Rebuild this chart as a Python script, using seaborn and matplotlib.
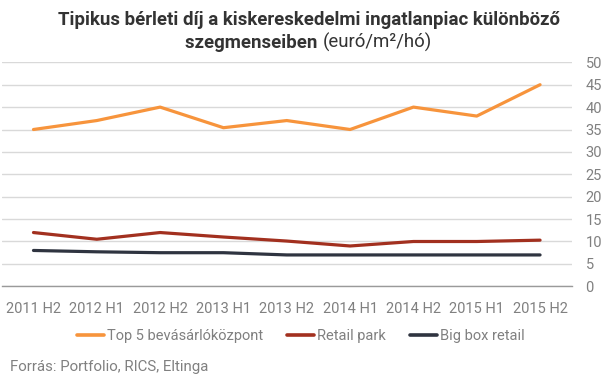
import matplotlib
matplotlib.use("Agg")
import matplotlib.pyplot as plt
import seaborn as sns
import pandas as pd

periods = ["2011 H2", "2012 H1", "2012 H2", "2013 H1", "2013 H2",
           "2014 H1", "2014 H2", "2015 H1", "2015 H2"]
top5 = [35, 37, 40, 35.4, 37, 35, 40, 38, 45]
retail_park = [12, 10.5, 12, 11, 10.1, 9, 10, 10, 10.3]
big_box = [8, 7.7, 7.5, 7.5, 7, 7, 7, 7, 7]

series_names = ["Top 5 bevásárlóközpont", "Retail park", "Big box retail"]
colors = ["#F7943C", "#A2301F", "#2F3440"]

rows = []
for name, vals in zip(series_names, [top5, retail_park, big_box]):
    for i, v in enumerate(vals):
        rows.append({"pos": i, "period": periods[i], "series": name, "value": v})
df = pd.DataFrame(rows)

sns.set_style("white")
plt.rcParams["font.family"] = ["Roboto", "DejaVu Sans"]

fig = plt.figure(figsize=(6.05, 3.79), dpi=100)
ax = fig.add_axes([0.003, 0.2446, 0.942, 0.591])

sns.lineplot(data=df, x="pos", y="value", hue="series", palette=colors,
             hue_order=series_names, linewidth=2.3, ax=ax, legend=False)

ax.set_xlim(-0.5, 8.5)
ax.set_ylim(0, 50)
ax.set_yticks(range(0, 51, 5))
ax.set_xticks(range(len(periods)))
ax.set_xticklabels(periods)
ax.yaxis.tick_right()
ax.tick_params(axis="y", length=0, pad=10, labelsize=10.5, colors="#808080")
ax.tick_params(axis="x", length=0, pad=11, labelsize=10.5, colors="#808080")
for lbl in ax.get_yticklabels():
    lbl.set_horizontalalignment("left")
ax.grid(axis="y", color="#D9D9D9", linewidth=1)
ax.set_axisbelow(True)
for s in ["top", "left", "right"]:
    ax.spines[s].set_visible(False)
ax.spines["bottom"].set_color("#9A9A9A")
ax.spines["bottom"].set_linewidth(1)
ax.set_xlabel("")
ax.set_ylabel("")

handles = [plt.Line2D([], [], color=c, linewidth=2.6) for c in colors]
fig.legend(handles, series_names, loc="center", bbox_to_anchor=(0.497, 0.113),
           ncol=3, frameon=False, fontsize=10.5, handlelength=1.85,
           handletextpad=0.2, columnspacing=1.65, labelcolor="#808080")

title_color = "#333333"
fig.text(0.51, 0.934, "Tipikus bérleti díj a kiskereskedelmi ingatlanpiac különböző",
         ha="center", va="baseline", fontsize=13.4, fontweight="bold", color=title_color)
t1 = fig.text(0, 0.873, "szegmenseiben ", ha="left", va="baseline", fontsize=13.4,
              fontweight="bold", color=title_color)
t2 = fig.text(0, 0.873, "(euró/m²/hó)", ha="left", va="baseline", fontsize=13.4,
              color=title_color)
fig.canvas.draw()
r = fig.canvas.get_renderer()
w1 = t1.get_window_extent(r).width / fig.bbox.width
w2 = t2.get_window_extent(r).width / fig.bbox.width
x0 = 0.51 - (w1 + w2) / 2
t1.set_x(x0)
t2.set_x(x0 + w1)

fig.text(0.017, 0.021, "Forrás: Portfolio, RICS, Eltinga", ha="left", va="baseline",
         fontsize=10.8, color="#808080")

fig.savefig("out.png", dpi=100)
